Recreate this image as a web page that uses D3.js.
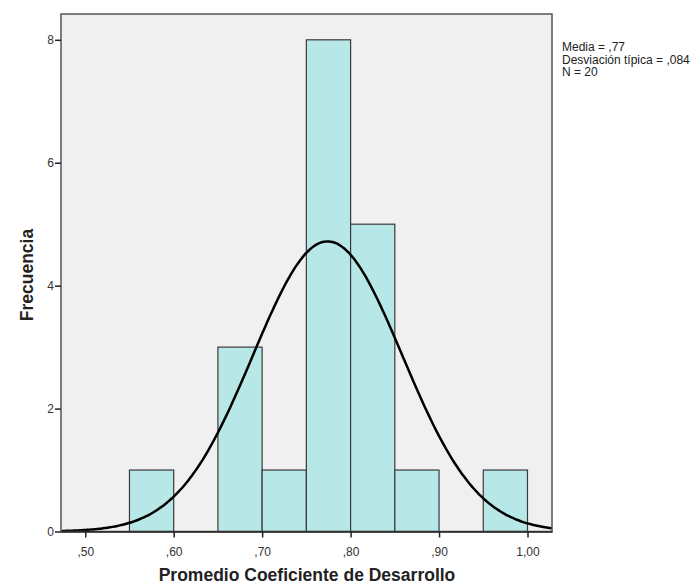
<!DOCTYPE html>
<html>
<head>
<meta charset="utf-8">
<script src="https://cdn.jsdelivr.net/npm/d3@7"></script>
<style>
  body { margin: 0; background: #fff; }
  svg { display: block; font-family: Arial, "Liberation Sans", sans-serif; }
</style>
</head>
<body>
<div id="chart"></div>
<script>
// Histograma - Promedio Coeficiente de Desarrollo

const binStart = [0.55, 0.65, 0.70, 0.75, 0.80, 0.85, 0.95];
const binEnd   = [0.60, 0.70, 0.75, 0.80, 0.85, 0.90, 1.00];
const counts   = [1, 3, 1, 8, 5, 1, 1];

const xTicks = [0.5, 0.6, 0.7, 0.8, 0.9, 1.0];
const xTickLabels = [",50", ",60", ",70", ",80", ",90", "1,00"];
const yTicks = [0, 2, 4, 6, 8];

const media = 0.774;
const desv = 0.0845;
const n = 20;
const binWidth = 0.05;
const statLines = ["Media = ,77", "Desviación típica = ,084", "N = 20"];

const width = 697;
const height = 588;
const plot = { left: 61, right: 552, top: 14, bottom: 531.5 };

const svg = d3.select("#chart")
    .append("svg")
    .attr("width", width)
    .attr("height", height);

const x = d3.scaleLinear()
    .domain([0.4726, 1.0277])
    .range([plot.left, plot.right]);

const y = d3.scaleLinear()
    .domain([0, 8.42])
    .range([plot.bottom, plot.top]);

// fondo del area de trazado
svg.append("rect")
    .attr("x", plot.left)
    .attr("y", plot.top)
    .attr("width", plot.right - plot.left)
    .attr("height", plot.bottom - plot.top)
    .attr("fill", "#f0f0f0");

// barras
svg.append("g")
    .selectAll("rect")
    .data(counts)
    .join("rect")
    .attr("x", (d, i) => x(binStart[i]))
    .attr("y", d => y(d))
    .attr("width", (d, i) => x(binEnd[i]) - x(binStart[i]))
    .attr("height", d => y(0) - y(d))
    .attr("fill", "#b8e7e8")
    .attr("stroke", "#3a3a3a")
    .attr("stroke-width", 1.2);

// curva normal ajustada
const curveX = d3.range(0, 201).map(i => x.domain()[0] + (x.domain()[1] - x.domain()[0]) * i / 200);
const dens = v => n * binWidth / (desv * Math.sqrt(2 * Math.PI)) * Math.exp(-0.5 * ((v - media) / desv) ** 2);

svg.append("path")
    .datum(curveX)
    .attr("fill", "none")
    .attr("stroke", "#000")
    .attr("stroke-width", 2.5)
    .attr("d", d3.line().x(d => x(d)).y(d => y(dens(d))).curve(d3.curveBasis));

// marco
svg.append("rect")
    .attr("x", plot.left)
    .attr("y", plot.top)
    .attr("width", plot.right - plot.left)
    .attr("height", plot.bottom - plot.top)
    .attr("fill", "none")
    .attr("stroke", "#555")
    .attr("stroke-width", 1.5);

// Eje X
const xAxis = svg.append("g")
    .attr("transform", `translate(0,${plot.bottom})`)
    .call(d3.axisBottom(x).tickValues(xTicks).tickFormat((d, i) => xTickLabels[i]).tickSize(6).tickSizeOuter(0));
xAxis.select(".domain").attr("stroke", "#222").attr("stroke-width", 1.5);
xAxis.selectAll(".tick line").attr("stroke", "#222").attr("stroke-width", 1.5);
xAxis.selectAll(".tick text").attr("font-size", "12px").attr("fill", "#333").attr("dy", "1.3em").attr("font-family", "Arial, 'Liberation Sans', sans-serif");

// Eje Y
const yAxis = svg.append("g")
    .attr("transform", `translate(${plot.left},0)`)
    .call(d3.axisLeft(y).tickValues(yTicks).tickSize(6).tickSizeOuter(0));
yAxis.select(".domain").remove();
yAxis.selectAll(".tick line").attr("stroke", "#222").attr("stroke-width", 1.5);
yAxis.selectAll(".tick text").attr("font-size", "12px").attr("fill", "#333").attr("x", -7).attr("font-family", "Arial, 'Liberation Sans', sans-serif");

// titulos
svg.append("text")
    .attr("x", 307)
    .attr("y", 581)
    .attr("text-anchor", "middle")
    .attr("font-size", "17.5px")
    .attr("font-weight", "bold")
    .attr("fill", "#222")
    .text("Promedio Coeficiente de Desarrollo");

svg.append("text")
    .attr("transform", `translate(33,275) rotate(-90)`)
    .attr("text-anchor", "middle")
    .attr("font-size", "17.5px")
    .attr("font-weight", "bold")
    .attr("fill", "#222")
    .text("Frecuencia");

// estadisticos
svg.append("g")
    .selectAll("text")
    .data(statLines)
    .join("text")
    .attr("x", 562)
    .attr("y", (d, i) => 51 + i * 12.5)
    .attr("font-size", "12px")
    .attr("fill", "#222")
    .text(d => d);
</script>
</body>
</html>
